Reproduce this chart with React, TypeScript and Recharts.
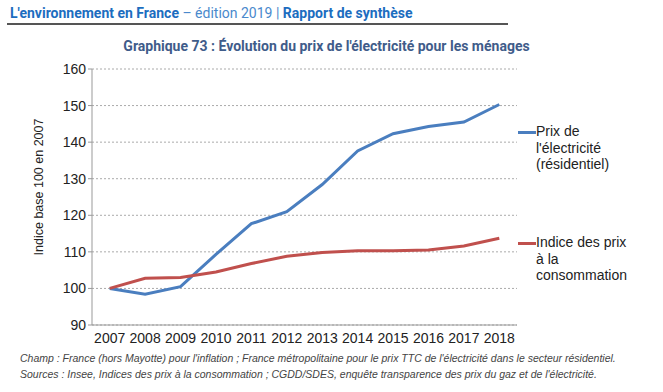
import { LineChart, Line, XAxis, YAxis, CartesianGrid } from 'recharts';

const years = ['2007', '2008', '2009', '2010', '2011', '2012', '2013', '2014', '2015', '2016', '2017', '2018'];
const electricite = [100, 98.4, 100.5, 109.3, 117.7, 121.0, 128.4, 137.6, 142.3, 144.3, 145.5, 150.3];
const inflation = [100, 102.8, 103.0, 104.5, 106.8, 108.8, 109.8, 110.3, 110.3, 110.5, 111.6, 113.7];
const yTicks = [90, 100, 110, 120, 130, 140, 150, 160];

const BLUE = '#4a7ebf';
const RED = '#c0504d';

const data = years.map((y, i) => ({ year: y, elec: electricite[i], ipc: inflation[i] }));

const legendItems = [
  { color: BLUE, lines: ['Prix de', "l'électricité", '(résidentiel)'], top: 123 },
  { color: RED, lines: ['Indice des prix', 'à la', 'consommation'], top: 234 },
];

function LegendBox() {
  return (
    <>
      {legendItems.map((it) => (
        <div key={it.color} style={{ position: 'absolute', left: 518, top: it.top, display: 'flex' }}>
          <div style={{ width: 18, height: 3, background: it.color, marginTop: 8 }} />
          <div style={{ fontSize: 14, lineHeight: '16.7px', color: '#222', whiteSpace: 'nowrap' }}>
            {it.lines.map((l) => (
              <div key={l}>{l}</div>
            ))}
          </div>
        </div>
      ))}
    </>
  );
}

export default function App() {
  return (
    <div style={{ position: 'absolute', left: 0, top: 0, width: 663, height: 392, background: '#fff', fontFamily: '"Liberation Sans", Arial, sans-serif' }}>
      <div style={{ position: 'absolute', left: 10, top: 5, fontSize: 14, fontFamily: 'Roboto, sans-serif', color: '#1c6dbf', whiteSpace: 'nowrap' }}>
        <b>L'environnement en France</b>
        <span style={{ color: '#4a89cc' }}> – édition 2019 | </span>
        <b>Rapport de synthèse</b>
      </div>
      <div style={{ position: 'absolute', left: 7, top: 23, width: 501, height: 1.5, background: '#555' }} />
      <div style={{ position: 'absolute', left: 0, width: 653, top: 38, textAlign: 'center', fontSize: 14, fontWeight: 'bold', fontFamily: 'Roboto, sans-serif', color: '#3f5c8a', whiteSpace: 'nowrap' }}>
        Graphique 73 : Évolution du prix de l'électricité pour les ménages
      </div>
      <div style={{ position: 'absolute', left: 0, top: 0 }}>
        <LineChart width={663} height={392} data={data} margin={{ top: 69, right: 146, bottom: 47, left: 32 }}>
          <CartesianGrid vertical={false} stroke="#aaa" strokeDasharray="2 2" />
          <XAxis
            dataKey="year"
            padding={{ left: 17.7, right: 17.7 }}
            tickLine={false}
            axisLine={{ stroke: '#999' }}
            tick={{ fill: '#222', fontSize: 14 }}
            height={20}
            interval={0}
          />
          <YAxis
            domain={[90, 160]}
            ticks={yTicks}
            interval={0}
            width={60}
            axisLine={{ stroke: '#999' }}
            tickLine={{ stroke: '#999' }}
            tickSize={4}
            tick={{ fill: '#222', fontSize: 14 }}
            label={{ value: 'Indice base 100 en 2007', angle: -90, position: 'center', dx: -23, dy: -10, style: { fill: '#222', fontSize: 12.5 } }}
          />
          <Line dataKey="elec" stroke={BLUE} strokeWidth={3} dot={false} isAnimationActive={false} />
          <Line dataKey="ipc" stroke={RED} strokeWidth={3} dot={false} isAnimationActive={false} />
        </LineChart>
      </div>
      <LegendBox />
      <div style={{ position: 'absolute', left: 20, top: 350, fontSize: 10.5, fontStyle: 'italic', color: '#444', lineHeight: '16px', whiteSpace: 'nowrap' }}>
        <div>Champ : France (hors Mayotte) pour l'inflation ; France métropolitaine pour le prix TTC de l'électricité dans le secteur résidentiel.</div>
        <div>Sources : Insee, Indices des prix à la consommation ; CGDD/SDES, enquête transparence des prix du gaz et de l'électricité.</div>
      </div>
    </div>
  );
}
